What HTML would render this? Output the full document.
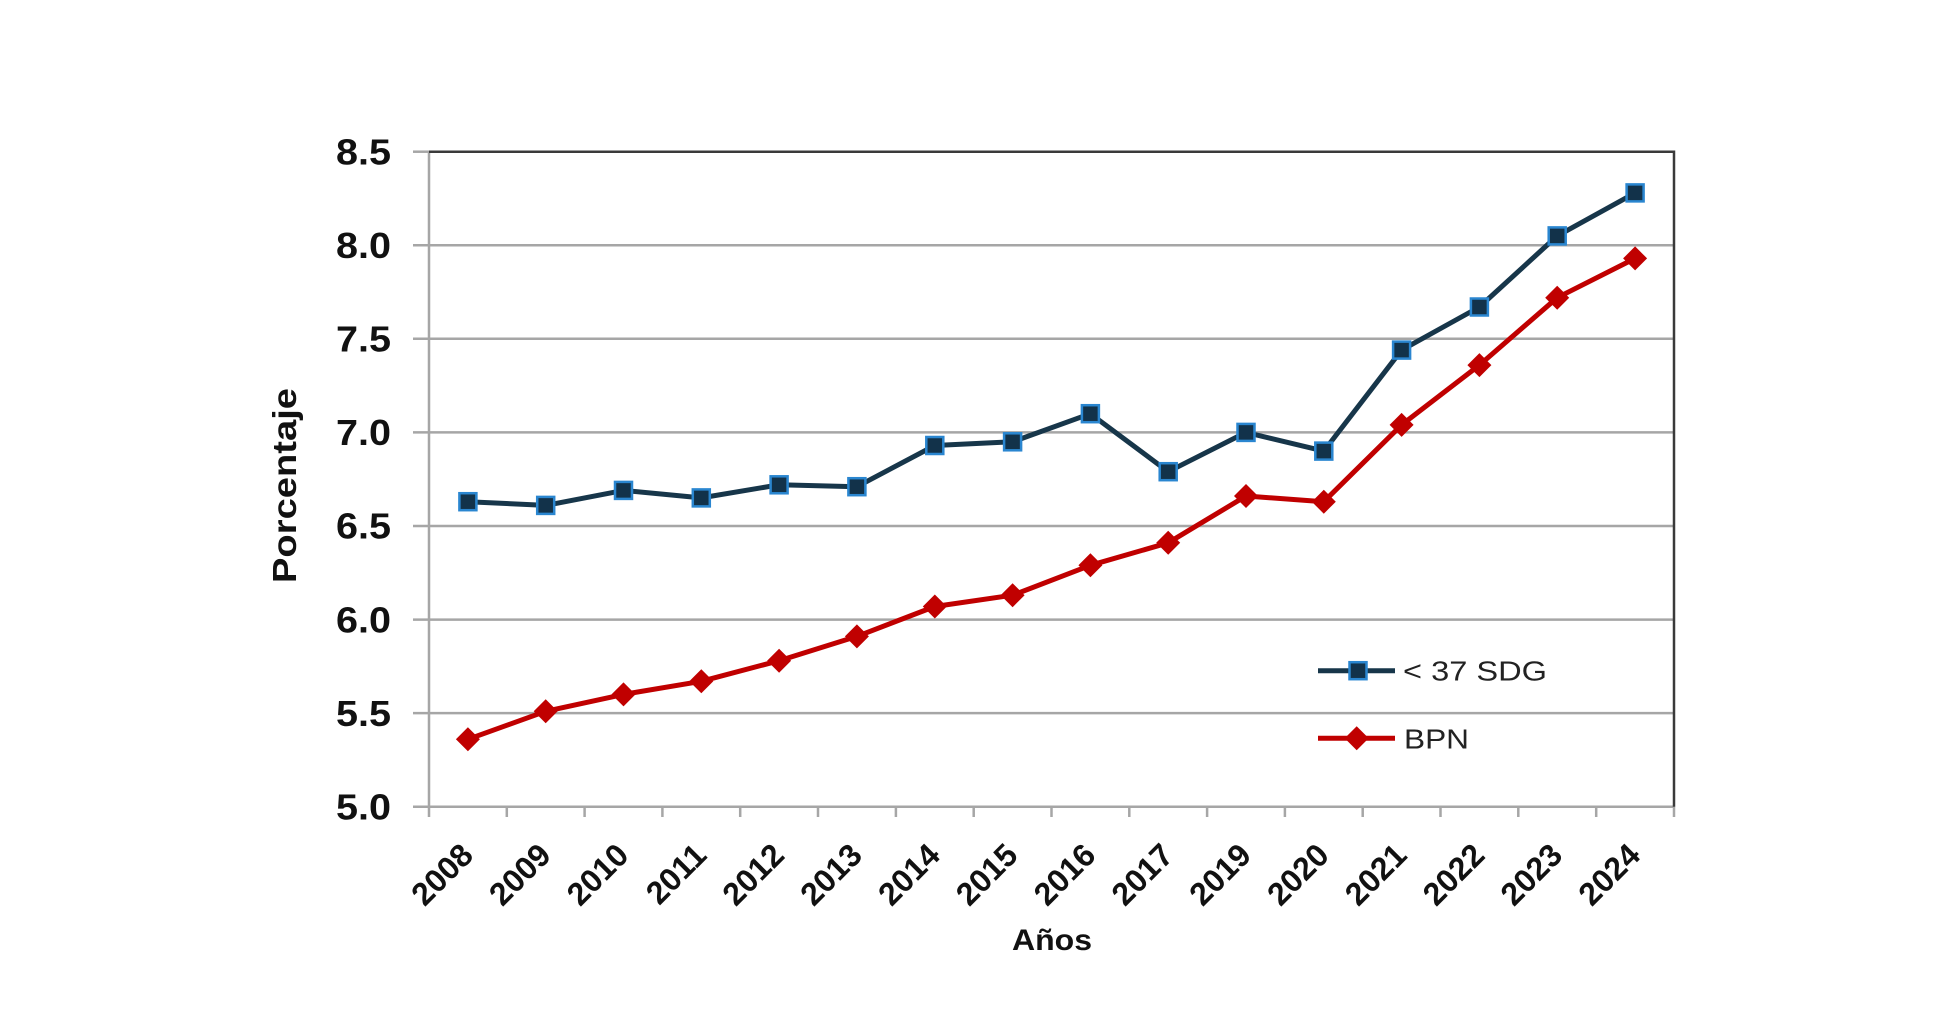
<!DOCTYPE html>
<html><head><meta charset="utf-8"><style>html,body{margin:0;padding:0;background:#fff}svg{display:block}</style></head>
<body>
<svg width="1954" height="1016" viewBox="0 0 1954 1016" xmlns="http://www.w3.org/2000/svg" font-family="Liberation Sans, Arial, sans-serif">
<rect width="1954" height="1016" fill="#fff"/>
<g stroke="#a6a6a6" stroke-width="2.5">
<line x1="413" y1="245.3" x2="1674" y2="245.3"/>
<line x1="413" y1="338.8" x2="1674" y2="338.8"/>
<line x1="413" y1="432.4" x2="1674" y2="432.4"/>
<line x1="413" y1="526.0" x2="1674" y2="526.0"/>
<line x1="413" y1="619.6" x2="1674" y2="619.6"/>
<line x1="413" y1="713.1" x2="1674" y2="713.1"/>
<line x1="413" y1="806.7" x2="1674" y2="806.7"/>
<line x1="413" y1="151.7" x2="429" y2="151.7"/>
<line x1="429" y1="151.7" x2="429" y2="817"/>
</g>
<g stroke="#a6a6a6" stroke-width="2.5">
<line x1="506.8" y1="806.7" x2="506.8" y2="817"/><line x1="584.6" y1="806.7" x2="584.6" y2="817"/><line x1="662.4" y1="806.7" x2="662.4" y2="817"/><line x1="740.2" y1="806.7" x2="740.2" y2="817"/><line x1="818.0" y1="806.7" x2="818.0" y2="817"/><line x1="895.9" y1="806.7" x2="895.9" y2="817"/><line x1="973.7" y1="806.7" x2="973.7" y2="817"/><line x1="1051.5" y1="806.7" x2="1051.5" y2="817"/><line x1="1129.3" y1="806.7" x2="1129.3" y2="817"/><line x1="1207.1" y1="806.7" x2="1207.1" y2="817"/><line x1="1284.9" y1="806.7" x2="1284.9" y2="817"/><line x1="1362.7" y1="806.7" x2="1362.7" y2="817"/><line x1="1440.5" y1="806.7" x2="1440.5" y2="817"/><line x1="1518.3" y1="806.7" x2="1518.3" y2="817"/><line x1="1596.2" y1="806.7" x2="1596.2" y2="817"/><line x1="1674" y1="806.7" x2="1674" y2="817"/>
</g>
<polyline points="429,151.7 1674,151.7 1674,806.7" fill="none" stroke="#3a3a3a" stroke-width="2.5"/>

<!-- Y tick labels -->
<g font-size="36" font-weight="bold" fill="#111" text-anchor="end">
<text x="391" y="164.5" textLength="55" lengthAdjust="spacingAndGlyphs">8.5</text>
<text x="391" y="258" textLength="55" lengthAdjust="spacingAndGlyphs">8.0</text>
<text x="391" y="351.5" textLength="55" lengthAdjust="spacingAndGlyphs">7.5</text>
<text x="391" y="445.1" textLength="55" lengthAdjust="spacingAndGlyphs">7.0</text>
<text x="391" y="538.7" textLength="55" lengthAdjust="spacingAndGlyphs">6.5</text>
<text x="391" y="632.3" textLength="55" lengthAdjust="spacingAndGlyphs">6.0</text>
<text x="391" y="725.8" textLength="55" lengthAdjust="spacingAndGlyphs">5.5</text>
<text x="391" y="819.4" textLength="55" lengthAdjust="spacingAndGlyphs">5.0</text>
</g>

<!-- X tick labels -->
<g font-size="32" font-weight="bold" fill="#111" text-anchor="end">
<text transform="translate(475,857) rotate(-45)">2008</text>
<text transform="translate(552.7,857) rotate(-45)">2009</text>
<text transform="translate(630.5,857) rotate(-45)">2010</text>
<text transform="translate(708.3,857) rotate(-45)">2011</text>
<text transform="translate(786.1,857) rotate(-45)">2012</text>
<text transform="translate(863.9,857) rotate(-45)">2013</text>
<text transform="translate(941.8,857) rotate(-45)">2014</text>
<text transform="translate(1019.6,857) rotate(-45)">2015</text>
<text transform="translate(1097.4,857) rotate(-45)">2016</text>
<text transform="translate(1175.2,857) rotate(-45)">2017</text>
<text transform="translate(1253,857) rotate(-45)">2019</text>
<text transform="translate(1330.8,857) rotate(-45)">2020</text>
<text transform="translate(1408.6,857) rotate(-45)">2021</text>
<text transform="translate(1486.4,857) rotate(-45)">2022</text>
<text transform="translate(1564.2,857) rotate(-45)">2023</text>
<text transform="translate(1642.1,857) rotate(-45)">2024</text>
</g>

<!-- Axis titles -->
<text transform="translate(296,485.5) rotate(-90)" font-size="33.5" font-weight="bold" fill="#111" text-anchor="middle" textLength="195" lengthAdjust="spacingAndGlyphs">Porcentaje</text>
<text x="1052" y="950" font-size="30" font-weight="bold" fill="#111" text-anchor="middle" textLength="80" lengthAdjust="spacingAndGlyphs">Años</text>

<!-- Series: < 37 SDG -->
<polyline fill="none" stroke="#17364a" stroke-width="5" stroke-linejoin="round" points="467.9,501.7 545.7,505.4 623.5,490.4 701.3,497.9 779.1,484.8 856.9,486.7 934.8,445.5 1012.6,441.8 1090.4,413.7 1168.2,471.7 1246.0,432.4 1323.8,451.1 1401.6,350.1 1479.4,307.0 1557.2,235.9 1635.1,192.9"/>
<!-- Series: BPN -->
<polyline fill="none" stroke="#c00000" stroke-width="5" stroke-linejoin="round" points="467.9,739.3 545.7,711.3 623.5,694.4 701.3,681.3 779.1,660.7 856.9,636.4 934.8,606.5 1012.6,595.2 1090.4,565.3 1168.2,542.8 1246.0,496.0 1323.8,501.7 1401.6,424.9 1479.4,365.1 1557.2,297.7 1635.1,258.4"/>

<g fill="#c00000">
<polygon points="467.9,727.3 479.9,739.3 467.9,751.3 455.9,739.3"/>
<polygon points="545.7,699.3 557.7,711.3 545.7,723.3 533.7,711.3"/>
<polygon points="623.5,682.4 635.5,694.4 623.5,706.4 611.5,694.4"/>
<polygon points="701.3,669.3 713.3,681.3 701.3,693.3 689.3,681.3"/>
<polygon points="779.1,648.7 791.1,660.7 779.1,672.7 767.1,660.7"/>
<polygon points="856.9,624.4 868.9,636.4 856.9,648.4 844.9,636.4"/>
<polygon points="934.8,594.5 946.8,606.5 934.8,618.5 922.8,606.5"/>
<polygon points="1012.6,583.2 1024.6,595.2 1012.6,607.2 1000.6,595.2"/>
<polygon points="1090.4,553.3 1102.4,565.3 1090.4,577.3 1078.4,565.3"/>
<polygon points="1168.2,530.8 1180.2,542.8 1168.2,554.8 1156.2,542.8"/>
<polygon points="1246.0,484.0 1258.0,496.0 1246.0,508.0 1234.0,496.0"/>
<polygon points="1323.8,489.7 1335.8,501.7 1323.8,513.7 1311.8,501.7"/>
<polygon points="1401.6,412.9 1413.6,424.9 1401.6,436.9 1389.6,424.9"/>
<polygon points="1479.4,353.1 1491.4,365.1 1479.4,377.1 1467.4,365.1"/>
<polygon points="1557.2,285.7 1569.2,297.7 1557.2,309.7 1545.2,297.7"/>
<polygon points="1635.1,246.4 1647.1,258.4 1635.1,270.4 1623.1,258.4"/>
</g>

<g fill="#12324a" stroke="#2a86d0" stroke-width="2.5">
<rect x="459.4" y="493.2" width="17" height="17"/>
<rect x="537.2" y="496.9" width="17" height="17"/>
<rect x="615.0" y="481.9" width="17" height="17"/>
<rect x="692.8" y="489.4" width="17" height="17"/>
<rect x="770.6" y="476.3" width="17" height="17"/>
<rect x="848.4" y="478.2" width="17" height="17"/>
<rect x="926.3" y="437.0" width="17" height="17"/>
<rect x="1004.1" y="433.3" width="17" height="17"/>
<rect x="1081.9" y="405.2" width="17" height="17"/>
<rect x="1159.7" y="463.2" width="17" height="17"/>
<rect x="1237.5" y="423.9" width="17" height="17"/>
<rect x="1315.3" y="442.6" width="17" height="17"/>
<rect x="1393.1" y="341.6" width="17" height="17"/>
<rect x="1470.9" y="298.5" width="17" height="17"/>
<rect x="1548.7" y="227.4" width="17" height="17"/>
<rect x="1626.6" y="184.4" width="17" height="17"/>
</g>

<!-- Legend -->
<line x1="1318" y1="670.7" x2="1395" y2="670.7" stroke="#17364a" stroke-width="5"/>
<rect x="1349.5" y="662.2" width="17" height="17" fill="#12324a" stroke="#2a86d0" stroke-width="2.5"/>
<text x="1403" y="680.7" font-size="28" fill="#222" textLength="144" lengthAdjust="spacingAndGlyphs">&lt; 37 SDG</text>
<line x1="1318" y1="738.3" x2="1395" y2="738.3" stroke="#c00000" stroke-width="5"/>
<polygon points="1356.7,726.3 1368.7,738.3 1356.7,750.3 1344.7,738.3" fill="#c00000"/>
<text x="1404" y="748.3" font-size="28" fill="#222" textLength="65" lengthAdjust="spacingAndGlyphs">BPN</text>
</svg>
</body></html>
